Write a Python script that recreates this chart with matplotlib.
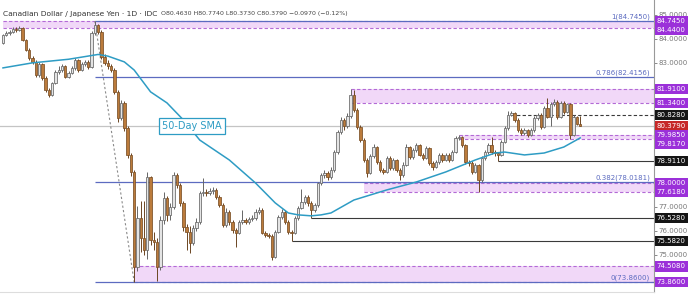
import matplotlib
matplotlib.use("Agg")
import matplotlib.pyplot as plt
import numpy as np

# daily CAD/JPY candles (open = previous close)
closes = [
    84.16, 84.25, 84.29, 84.41, 84.37, 84.45, 83.95, 83.54, 83.20, 83.04,
    82.49, 82.95, 82.37, 81.87, 81.66, 82.16, 82.62, 82.70, 82.87, 82.41,
    82.58, 82.79, 83.12, 82.70, 82.95, 83.04, 82.83, 84.25, 84.58, 84.29,
    83.24, 82.99, 82.87, 82.70, 81.79, 80.70, 81.33, 80.28, 79.16, 78.45,
    74.49, 76.53, 75.70, 75.20, 78.24, 75.61, 75.53, 74.49, 76.45, 77.36,
    76.65, 76.99, 78.32, 77.91, 77.16, 76.16, 75.95, 75.49, 76.12, 76.37,
    77.57, 77.61, 77.57, 77.66, 77.70, 77.41, 77.07, 76.24, 76.78, 76.37,
    76.03, 75.91, 76.37, 76.45, 76.37, 76.49, 76.53, 76.78, 76.87, 75.91,
    75.82, 75.78, 74.90, 75.95, 76.57, 76.78, 76.37, 75.95, 75.91, 76.53,
    76.95, 77.20, 77.41, 77.16, 76.87, 77.07, 77.99, 78.32, 78.41, 78.24,
    78.53, 79.28, 80.12, 80.62, 80.37, 80.79, 81.66, 81.03, 80.33, 79.78,
    78.95, 78.41, 79.12, 79.49, 78.87, 78.53, 78.45, 79.03, 78.62, 78.95,
    78.53, 78.32, 78.74, 79.49, 79.08, 79.37, 79.57, 79.16, 79.03, 79.45,
    78.83, 78.66, 78.87, 79.16, 78.95, 79.16, 78.95, 79.28, 79.87, 79.91,
    79.57, 78.87, 78.83, 78.45, 78.74, 78.12, 79.03, 79.28, 79.57, 79.28,
    79.24, 79.16, 79.70, 80.28, 80.83, 80.91, 80.62, 80.20, 80.08, 80.20,
    79.99, 80.20, 80.70, 80.83, 80.33, 81.12, 80.74, 81.28, 81.37, 80.74,
    81.33, 80.95, 81.28, 80.00, 80.74, 80.463, 80.379,
]
highs = [
    84.22, 84.32, 84.36, 84.50, 84.48, 84.52, 84.50, 84.00, 83.60, 83.30,
    83.10, 83.05, 83.00, 82.45, 81.95, 82.22, 82.70, 82.85, 82.95, 82.92,
    82.68, 82.88, 83.20, 83.18, 83.02, 83.12, 83.10, 84.32, 84.745, 84.62,
    84.35, 83.35, 83.10, 82.95, 82.78, 81.85, 81.45, 81.40, 80.35, 79.25,
    78.55, 77.05, 77.25, 77.25, 78.45, 78.30, 75.95, 75.70, 76.60, 77.60,
    77.45, 77.15, 78.45, 78.40, 78.00, 77.25, 76.30, 76.20, 76.25, 76.55,
    77.65, 78.20, 77.75, 77.80, 77.82, 77.78, 77.50, 77.15, 76.95, 76.85,
    76.45, 76.10, 76.45, 76.87, 76.55, 76.58, 76.65, 76.90, 77.00, 76.95,
    76.00, 75.90, 75.85, 76.05, 76.65, 76.90, 76.85, 76.45, 76.05, 76.60,
    77.05, 77.74, 77.50, 77.48, 77.25, 77.15, 78.05, 78.40, 78.55, 78.50,
    78.65, 79.35, 80.20, 80.75, 80.70, 80.90, 81.91, 81.85, 81.10, 80.40,
    79.85, 79.05, 79.20, 79.60, 79.55, 78.95, 78.62, 79.12, 79.10, 79.05,
    79.00, 78.60, 78.85, 79.60, 79.55, 79.45, 79.65, 79.62, 79.25, 79.52,
    79.50, 78.90, 78.95, 79.25, 79.22, 79.25, 79.22, 79.35, 79.95, 79.985,
    79.95, 79.62, 78.95, 78.90, 78.82, 78.80, 79.12, 79.35, 79.65, 79.91,
    79.35, 79.30, 79.78, 80.35, 81.00, 81.00, 80.95, 80.68, 80.28, 80.28,
    80.26, 80.28, 80.78, 80.92, 80.90, 81.22, 81.55, 81.36, 81.50, 81.45,
    81.40, 81.40, 81.34, 81.32, 80.82, 80.80, 80.774,
]
lows = [
    83.78, 84.10, 84.18, 84.24, 84.30, 84.32, 83.90, 83.48, 83.12, 82.95,
    82.40, 82.42, 82.30, 81.80, 81.57, 81.60, 82.10, 82.55, 82.62, 82.35,
    82.35, 82.52, 82.72, 82.62, 82.65, 82.88, 82.75, 82.78, 84.15, 84.20,
    83.15, 82.90, 82.75, 82.60, 81.70, 80.55, 80.60, 80.15, 79.05, 78.30,
    73.86, 74.30, 75.10, 75.00, 74.80, 75.40, 75.20, 73.90, 74.35, 76.30,
    76.40, 76.45, 76.90, 77.80, 77.05, 76.00, 75.20, 75.08, 75.40, 76.00,
    76.30, 77.45, 77.45, 77.50, 77.55, 77.32, 76.98, 76.15, 76.15, 76.25,
    75.90, 75.33, 75.85, 76.30, 76.28, 76.30, 76.40, 76.45, 76.70, 75.85,
    75.72, 75.70, 74.78, 74.85, 75.90, 76.50, 76.30, 75.85, 75.582, 75.85,
    76.45, 76.90, 77.10, 77.05, 76.528, 76.80, 77.00, 77.90, 78.20, 78.10,
    78.15, 78.45, 79.20, 80.05, 80.20, 80.30, 80.70, 80.95, 80.25, 79.70,
    78.85, 78.24, 78.35, 79.05, 78.80, 78.45, 78.35, 78.40, 78.55, 78.55,
    78.45, 78.12, 78.25, 78.70, 79.00, 79.00, 79.30, 79.10, 78.95, 78.98,
    78.75, 78.55, 78.60, 78.80, 78.88, 78.90, 78.88, 78.90, 79.22, 79.78,
    79.50, 78.80, 78.70, 78.38, 78.40, 77.618, 78.05, 78.95, 79.20, 79.20,
    79.12, 78.911, 79.10, 79.65, 80.22, 80.78, 80.55, 80.10, 79.98, 80.00,
    79.92, 79.95, 80.12, 80.62, 80.25, 80.28, 80.68, 80.35, 81.20, 80.65,
    80.68, 80.85, 80.90, 79.817, 79.95, 80.40, 80.373,
]
first_open = 83.83

# 50-day SMA, sampled at bar indices
sma_idx = [0, 9, 20, 29, 32, 37, 40, 45, 50, 55, 60, 69, 77, 83, 87, 90, 94,
           97, 100, 107, 117, 126, 135, 144, 150, 153, 159, 165, 171, 176]
sma_val = [82.79, 83.00, 83.15, 83.35, 83.28, 83.04, 82.70, 81.79, 81.33, 80.62,
           79.78, 78.95, 77.99, 77.16, 76.74, 76.66, 76.62, 76.66, 76.74, 77.28,
           77.70, 78.03, 78.45, 78.95, 79.24, 79.28, 79.16, 79.24, 79.49, 79.87]

# fibonacci retracement (high bar 28 -> low bar 40)
fib_ratios = ["1", "0.786", "0.382", "0"]
fib_levels = [84.745, 82.4156, 78.0181, 73.86]
fib_start = 28
fib_end = 40

# support / resistance zones: (top, bottom, first bar)
zones = [(84.745, 84.44, 0), (81.91, 81.34, 106), (79.985, 79.817, 139),
         (78.00, 77.618, 110), (74.508, 73.86, 40)]
# solid dark levels and their first bar
dark_levels = [78.911, 76.528, 75.582]
dark_starts = [151, 94, 88]
dashed_level = 80.828
dashed_start = 155
last_price = 80.379

purple = "#9b30d9"
box_labels = [(84.745, purple), (84.44, purple), (81.91, purple), (81.34, purple),
              (80.828, "#151515"), (80.379, "#c62828"), (79.985, purple),
              (79.817, purple), (78.911, "#151515"), (78.00, purple),
              (77.618, purple), (76.528, "#151515"), (75.582, "#151515"),
              (74.508, purple), (73.86, purple)]
# price ticks that are not hidden behind the level boxes
ticks = [85, 84, 83, 77, 76, 75]

closes = np.array(closes)
opens = np.array([first_open] + list(closes[:-1]))
highs = np.array(highs)
lows = np.array(lows)
x = np.arange(len(closes))

fig = plt.figure(figsize=(6.93, 2.97), dpi=100)
ax = fig.add_axes([0, 5 / 297, 654 / 693, 292 / 297])
xmin, xmax = -0.91, 198.5
ax.set_xlim(xmin, xmax)
ax.set_ylim(73.444, 85.621)

# zones
for top, bot, start in zones:
    ax.fill_between([start, xmax], bot, top, color="#f1d8f8", lw=0, zorder=1)
    ax.hlines([top, bot], start, xmax, colors="#b36ad6", linestyles=(0, (3, 2)),
              lw=0.8, zorder=2)

fib_color = "#5c6bc0"
ax.hlines(fib_levels, fib_start, xmax, colors=fib_color, lw=0.9, zorder=2)
for r, lv in zip(fib_ratios, fib_levels):
    ax.text(197.3, lv + 0.04, f"{r}({lv:.4f})", ha="right", va="bottom",
            fontsize=5, color=fib_color, zorder=6)
ax.plot([fib_start, fib_end], [fib_levels[0], fib_levels[-1]], color="#8a8a8a",
        ls=(0, (2, 2)), lw=0.8, zorder=2)

for lv, st in zip(dark_levels, dark_starts):
    ax.hlines(lv, st, xmax, colors="#3a3a3a", lw=0.8, zorder=2)
ax.hlines(dashed_level, dashed_start, xmax, colors="#3a3a3a",
          linestyles=(0, (3, 2)), lw=0.8, zorder=2)
ax.axhline(last_price, color="#c4c4c4", lw=0.9, zorder=1.5)

# candles
up = closes >= opens
ax.vlines(x, lows, highs, colors=np.where(up, "#666666", "#6b4623"), lw=0.7, zorder=3)
ax.bar(x, np.maximum(np.abs(closes - opens), 0.025), bottom=np.minimum(opens, closes),
       width=0.72, color=np.where(up, "#e4e4e4", "#bb7b3c"),
       edgecolor=np.where(up, "#666666", "#7a4f26"), linewidth=0.55, zorder=4)

# SMA
sma_color = "#2e9cc4"
ax.plot(sma_idx, sma_val, color=sma_color, lw=1.1, zorder=5)
ax.text(57.6, 80.37, "50-Day SMA", ha="center", va="center", fontsize=7,
        color=sma_color, zorder=7,
        bbox=dict(boxstyle="square,pad=0.3", fc="white", ec=sma_color, lw=0.9))

# right axis
ax.yaxis.tick_right()
ax.set_yticks(ticks)
ax.set_yticklabels([f"{t:.4f}" for t in ticks])
ax.tick_params(axis="y", labelsize=5, colors="#777777", length=2, pad=1.5, width=0.6)
ax.set_xticks([])
for s in ["top", "left"]:
    ax.spines[s].set_visible(False)
ax.spines["right"].set_color("#999999")
ax.spines["bottom"].set_color("#dddddd")

prev = None
for price, col in sorted(box_labels, key=lambda t: -t[0]):
    disp = price if prev is None else min(price, prev - 0.37)
    prev = disp
    ax.text(1.004, disp, f"{price:.4f}", transform=ax.get_yaxis_transform(),
            ha="left", va="center", fontsize=5, color="white", zorder=8,
            clip_on=False,
            bbox=dict(boxstyle="square,pad=0.3", fc=col, ec="none"))

fig.text(3 / 693, 1 - 14 / 297, "Canadian Dollar / Japanese Yen · 1D · IDC",
         fontsize=5.4, color="#333333", va="center")
fig.text(161 / 693, 1 - 14 / 297,
         "O80.4630 H80.7740 L80.3730 C80.3790 \u22120.0970 (\u22120.12%)",
         fontsize=4.5, color="#444444", va="center")

fig.savefig("out.png", dpi=100)
